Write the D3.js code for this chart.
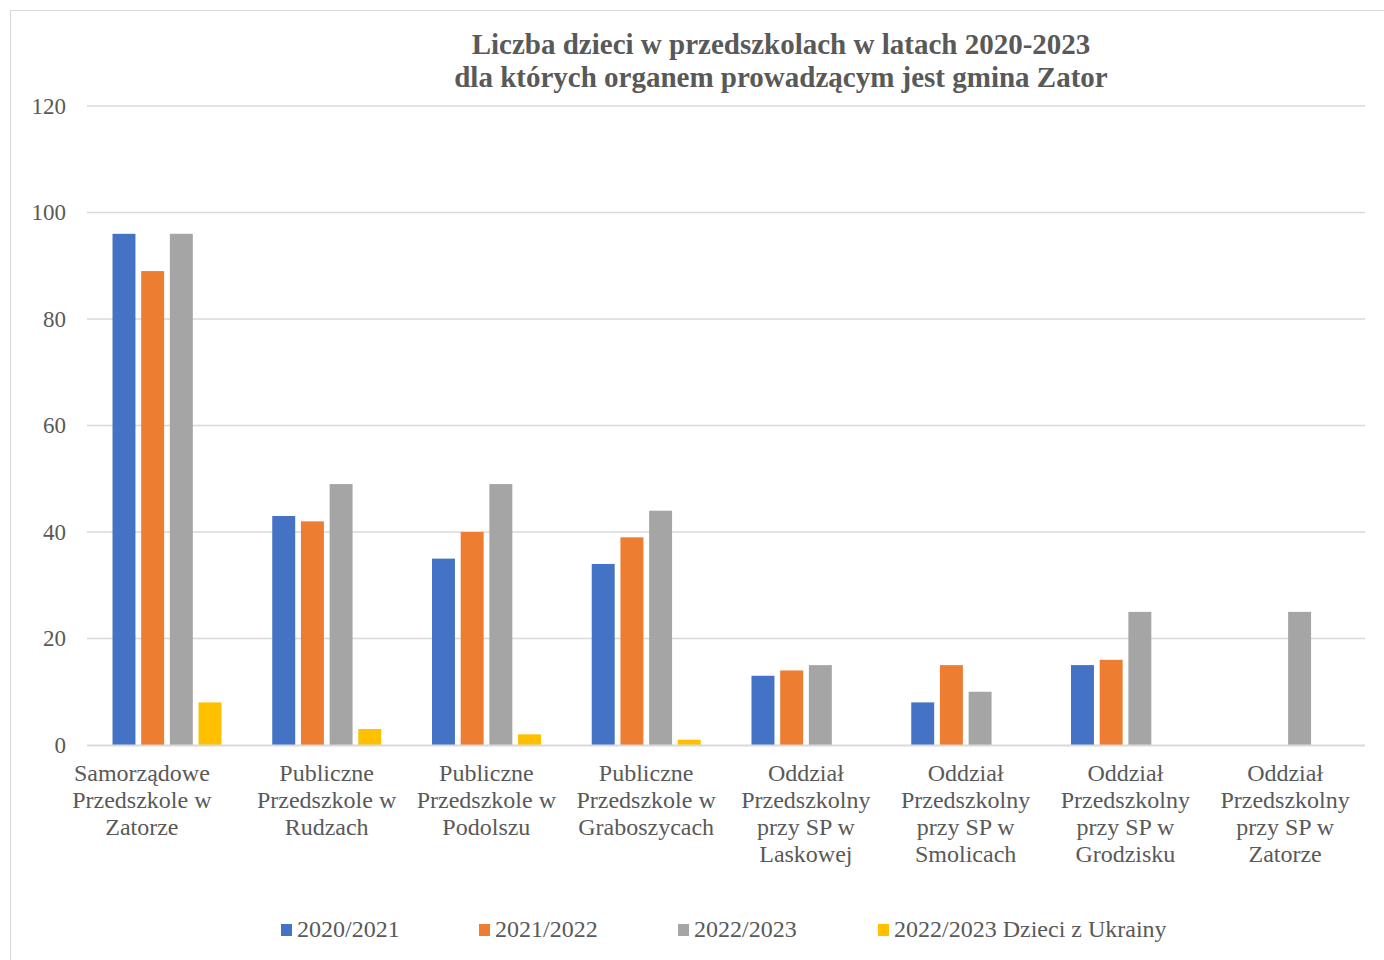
<!DOCTYPE html>
<html><head><meta charset="utf-8">
<script src="https://cdn.jsdelivr.net/npm/d3@7/dist/d3.min.js"></script>
<style>body{margin:0;background:#fff}svg{display:block}</style>
</head><body>
<svg id="c" width="1384" height="960"></svg>
<script>
const categories = [
  ["Samorządowe","Przedszkole w","Zatorze"],
  ["Publiczne","Przedszkole w","Rudzach"],
  ["Publiczne","Przedszkole w","Podolszu"],
  ["Publiczne","Przedszkole w","Graboszycach"],
  ["Oddział","Przedszkolny","przy SP w","Laskowej"],
  ["Oddział","Przedszkolny","przy SP w","Smolicach"],
  ["Oddział","Przedszkolny","przy SP w","Grodzisku"],
  ["Oddział","Przedszkolny","przy SP w","Zatorze"]
];
const seriesNames = ["2020/2021","2021/2022","2022/2023","2022/2023 Dzieci z Ukrainy"];
const s2020 = [96,43,35,34,13,8,15,0];
const s2021 = [89,42,40,39,14,15,16,0];
const s2022 = [96,49,49,44,15,10,25,25];
const sUkr  = [8,3,2,1,0,0,0,0];
const yTicks = [0,20,40,60,80,100,120];
const colors = ["#4472c4","#ed7d31","#a5a5a5","#ffc000"];
const series = [s2020,s2021,s2022,sUkr];

const svg = d3.select("#c");
const font = "'Liberation Serif','Times New Roman',serif";
svg.append("rect").attr("x",10.5).attr("y",10.5).attr("width",1400).attr("height",1000)
  .attr("fill","#fff").attr("stroke","#d9d9d9").attr("stroke-width",1);

const pL=87,pR=1365,pT=106,pB=745;
const y = d3.scaleLinear().domain([0,120]).range([pB,pT]);
const x0 = d3.scaleBand().domain(d3.range(categories.length)).range([pL,pR]);
const x1 = d3.scaleBand().domain(d3.range(series.length)).range([25.5,134.5]).paddingInner(0.2);

// grid
svg.append("g").selectAll("line").data(yTicks.filter(d=>d>0)).join("line")
  .attr("x1",pL).attr("x2",pR).attr("y1",d=>y(d)).attr("y2",d=>y(d))
  .attr("stroke","#d9d9d9").attr("stroke-width",1.3);

// bars
const g = svg.append("g");
series.forEach((arr,si)=>{
  g.selectAll(null).data(arr.map((v,i)=>({v,i})).filter(d=>d.v>0)).join("rect")
    .attr("x",d=>x0(d.i)+x1(si)).attr("width",x1.bandwidth())
    .attr("y",d=>y(d.v)).attr("height",d=>y(0)-y(d.v))
    .attr("fill",colors[si]);
});

// axis line
svg.append("line").attr("x1",pL).attr("x2",pR).attr("y1",pB+0.5).attr("y2",pB+0.5)
  .attr("stroke","#d9d9d9").attr("stroke-width",2);

// y labels
svg.append("g").selectAll("text").data(yTicks).join("text")
  .attr("x",66).attr("y",d=>y(d)+7.5).attr("text-anchor","end")
  .attr("font-family",font).attr("font-size",23).attr("fill","#595959").text(d=>d);

// x labels
const xl = svg.append("g");
categories.forEach((lines,i)=>{
  const cx = x0(i)+x0.bandwidth()/2 - (i===0 ? 25 : 0);
  const t = xl.append("text").attr("text-anchor","middle").attr("font-family",font)
    .attr("font-size",24).attr("fill","#595959");
  lines.forEach((ln,k)=>{
    t.append("tspan").attr("x",cx).attr("y",781+k*27).text(ln);
  });
});

// title
const title = svg.append("text").attr("text-anchor","middle").attr("font-family",font)
  .attr("font-size",29).attr("font-weight","bold").attr("fill","#595959");
title.append("tspan").attr("x",781).attr("y",54).text("Liczba dzieci w przedszkolach w latach 2020-2023");
title.append("tspan").attr("x",781).attr("y",87).text("dla których organem prowadzącym jest gmina Zator");

// legend
const legX = [281,479,678,878];
const lg = svg.append("g");
seriesNames.forEach((n,i)=>{
  lg.append("rect").attr("x",legX[i]).attr("y",924).attr("width",11).attr("height",12).attr("fill",colors[i]);
  lg.append("text").attr("x",legX[i]+16).attr("y",937)
    .attr("font-family",font).attr("font-size",24).attr("fill","#595959").text(n);
});
</script>
</body></html>
